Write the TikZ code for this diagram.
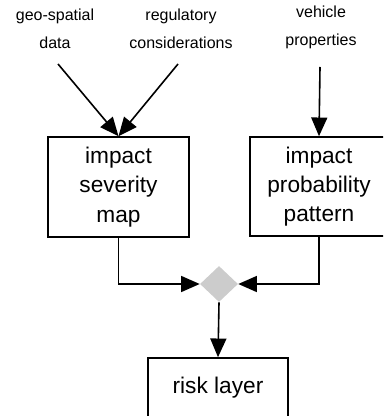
\documentclass[tikz,border=0pt]{standalone}
\usepackage{fontspec}
\setmainfont{Liberation Sans}
\usetikzlibrary{shapes.geometric,arrows.meta}
\definecolor{ink}{HTML}{000000}
\definecolor{joint}{HTML}{CCCCCC}
\tikzset{
  box/.style={draw=ink, line width=1.2pt, align=center, font=\fontsize{17}{22}\selectfont, inner sep=0pt},
  src/.style={text=ink, align=center, font=\fontsize{12}{21}\selectfont, inner sep=0pt},
  arr/.style={draw=ink, line width=1.2pt, -{Triangle[length=14pt,width=12pt]}},
  mix/.style={diamond, fill=joint, inner sep=0pt, minimum width=28.5pt, minimum height=27pt},
}
\begin{document}
\begin{tikzpicture}[x=0.75pt,y=-0.75pt]
  \useasboundingbox (0,0) rectangle (383,416);
  \clip (0,0) rectangle (383,416);

  % inputs
  \node[src] (geo) at (55,29) {geo-spatial\\data};
  \node[src] (reg) at (181,29) {regulatory\\considerations};
  \node[src] (veh) at (321,27.5) {vehicle\\properties};
  \coordinate (geoend) at (58,64);
  \coordinate (regend) at (178,64);
  \coordinate (vehend) at (320,67);

  % boxes
  \node[box, minimum width=105.75pt, minimum height=75pt] (sev) at (118.5,187) {impact\\severity\\map};
  \node[box, minimum width=103.5pt, minimum height=74.25pt] (prob) at (319,186.5) {impact\\probability\\pattern};
  \node[mix] (join) at (219,284) {};
  \node[box, minimum width=105pt, minimum height=45pt] (risk) at (218,388) {risk layer};

  % connectors
  \draw[arr] (geoend) -- (sev.north);
  \draw[arr] (regend) -- (sev.north);
  \draw[arr] (vehend) -- (prob.north);
  \draw[arr] (sev.south) |- (join.west);
  \draw[arr] (prob.south) |- (join.east);
  \draw[arr] (join.south) -- (risk.north);
\end{tikzpicture}
\end{document}
